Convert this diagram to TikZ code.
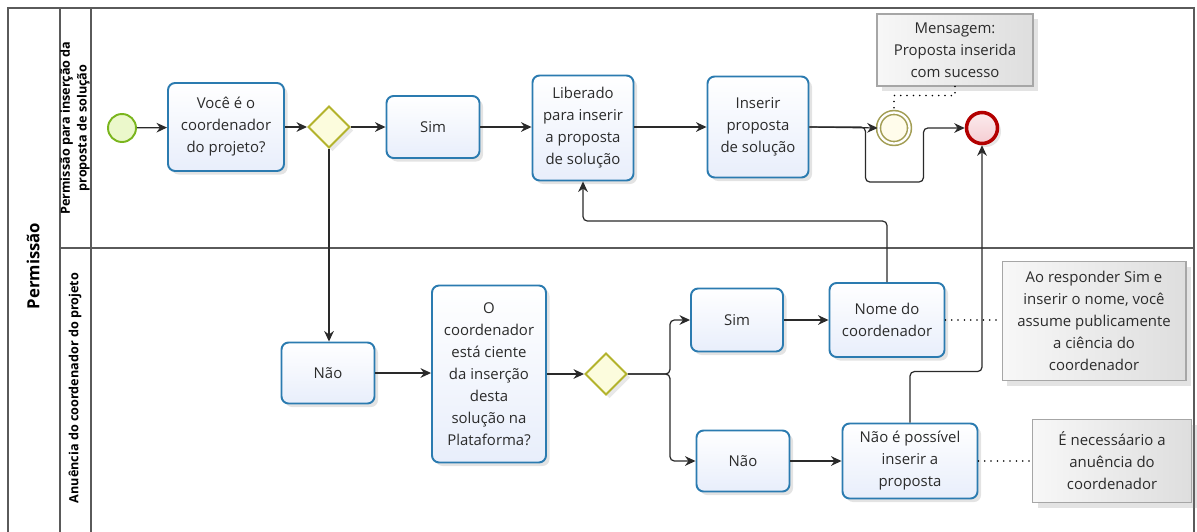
\documentclass[tikz,border=0pt]{standalone}
\usepackage{fontspec}
\setmainfont{Open Sans}
\usepackage{tikz}
\usetikzlibrary{arrows.meta,shapes.geometric,shadows}
\definecolor{taskblue}{HTML}{2B7BB0}
\definecolor{taskfill}{HTML}{E8EEFB}
\definecolor{gateolive}{HTML}{B3B32C}
\definecolor{gatefill}{HTML}{FCFCDD}
\definecolor{startgreen}{HTML}{7AB51D}
\definecolor{startfill}{HTML}{EBF8CB}
\definecolor{endred}{HTML}{B30000}
\definecolor{endfill}{HTML}{F5CDD2}
\definecolor{midolive}{HTML}{A39E55}
\definecolor{midfill}{HTML}{FFFCEB}
\definecolor{notegray}{HTML}{A6A6A6}
\definecolor{flowgray}{HTML}{2A2A2A}
\definecolor{poolgray}{HTML}{5A5A5A}
\definecolor{txt}{HTML}{2B2B2B}
\newcommand{\taskrad}{4pt}
\newcommand{\taskw}{1.1pt}
\newcommand{\flowrad}{2.5pt}

\begin{document}
\begin{tikzpicture}[x=0.02cm,y=-0.02cm]
    %\draw[help lines] (0,0) grid[step=50] (1197,531);
    \tikzset{
        task/.style = {rectangle, rounded corners=\taskrad, draw=taskblue, line width=\taskw,
            top color=white, bottom color=taskfill, text=txt, align=center,
            font=\fontsize{8.5}{12.5}\selectfont, inner sep=1pt,
            drop shadow={opacity=0.22, shadow xshift=2pt, shadow yshift=-2pt}},
        gateway/.style = {diamond, aspect=1, draw=gateolive, line width=\taskw, fill=gatefill,
            minimum width=0.84cm, minimum height=0.84cm, inner sep=0pt,
            drop shadow={opacity=0.18, shadow xshift=2pt, shadow yshift=-2pt}},
        startev/.style = {circle, draw=startgreen, line width=1.1pt, fill=startfill,
            minimum size=0.56cm, inner sep=0pt},
        midev/.style = {circle, draw=midolive, line width=0.9pt, double=white,
            double distance=1.3pt, fill=midfill, minimum size=0.62cm, inner sep=0pt},
        endev/.style = {circle, draw=endred, line width=2pt, top color=white!60!endfill,
            bottom color=endfill, minimum size=0.62cm, inner sep=0pt,
            drop shadow={opacity=0.2, shadow xshift=2pt, shadow yshift=-2pt}},
        note/.style = {rectangle, draw=notegray, line width=0.6pt, left color=gray!6,
            right color=gray!26, text=txt, align=center,
            font=\fontsize{8.5}{12.5}\selectfont, inner sep=1pt,
            drop shadow={opacity=0.22, shadow xshift=3pt, shadow yshift=-3pt}},
        lanelabel/.style = {rotate=90, text=black, align=center,
            font=\fontsize{7.2}{9.5}\selectfont\bfseries},
        flow/.style = {draw=flowgray, line width=0.7pt, rounded corners=\flowrad,
            -{Stealth[length=6pt,width=5.5pt]}},
        assoc/.style = {draw=black, line width=1pt, line cap=round,
            dash pattern=on 0pt off 3.6pt}
    }
    \useasboundingbox (0,0) rectangle (1197,531);

    % pool and lanes
    \draw[poolgray, line width=0.8pt] (8,8) rectangle (1194,548);
    \draw[poolgray, line width=0.8pt] (60,8) -- (60,548);
    \draw[poolgray, line width=0.8pt] (91,8) -- (91,548);
    \draw[poolgray, line width=0.8pt] (60,248) -- (1194,248);
    \node[lanelabel, font=\fontsize{9.5}{11}\selectfont\bfseries] (pool) at (33,266) {Permissão};
    \node[lanelabel] (laneA) at (75,128) {Permissão para inserção da\\proposta de solução};
    \node[lanelabel] (laneB) at (75,388) {Anuência do coordenador do projeto};

    % upper lane
    \node[startev] (start) at (122,128) {};
    \node[task, minimum width=2.32cm, minimum height=1.76cm] (voce) at (226,127) {Você é o\\coordenador\\do projeto?};
    \node[gateway] (gwA) at (329,127) {};
    \node[task, minimum width=1.86cm, minimum height=1.24cm] (simA) at (433,127) {Sim};
    \node[task, minimum width=2.02cm, minimum height=2.10cm] (liberado) at (583,128) {Liberado\\para inserir\\a proposta\\de solução};
    \node[task, minimum width=2.02cm, minimum height=2.02cm] (inserir) at (758,127) {Inserir\\proposta\\de solução};
    \node[midev] (msg) at (894,128) {};
    \node[endev] (fim) at (982,128) {};
    \node[note, minimum width=3.12cm, minimum height=1.44cm] (msgnote) at (955,50) {Mensagem:\\Proposta inserida\\com sucesso};

    % lower lane
    \node[task, minimum width=1.86cm, minimum height=1.22cm] (naoA) at (328,373) {Não};
    \node[task, minimum width=2.28cm, minimum height=3.54cm] (ciente) at (489,374) {O\\coordenador\\está ciente\\da inserção\\desta\\solução na\\Plataforma?};
    \node[gateway] (gwB) at (606,374) {};
    \node[task, minimum width=1.84cm, minimum height=1.26cm] (simB) at (737,320) {Sim};
    \node[task, minimum width=2.30cm, minimum height=1.48cm] (nome) at (887,320) {Nome do\\coordenador};
    \node[task, minimum width=1.86cm, minimum height=1.22cm] (naoB) at (743,461) {Não};
    \node[task, minimum width=2.70cm, minimum height=1.50cm] (naoposs) at (910,461) {Não é possível\\inserir a\\proposta};
    \node[note, minimum width=3.68cm, minimum height=2.38cm] (simnote) at (1094,321) {Ao responder Sim e\\inserir o nome, você\\assume publicamente\\a ciência do\\coordenador};
    \node[note, minimum width=3.18cm, minimum height=1.66cm] (naonote) at (1112,461) {É necessáario a\\anuência do\\coordenador};

    % sequence flows
    \draw[flow] (start) -- (voce);
    \draw[flow] (voce) -- (gwA);
    \draw[flow] (gwA) -- (simA);
    \draw[flow] (simA) -- (liberado.west |- simA);
    \draw[flow] (liberado.east |- inserir) -- (inserir);
    \draw[flow] (inserir.east) -- (msg.west);
    \draw[flow] (inserir.east) -- ++(56,0) -- ++(0,55) -- ++(58,0) |- (fim.west);
    \draw[flow] (gwA.south) -- (gwA.south |- naoA.north);
    \draw[flow] (naoA) -- (ciente.west |- naoA);
    \draw[flow] (ciente) -- (gwB);
    \draw[flow] (gwB.east) -- ++(42,0) |- (simB.west);
    \draw[flow] (gwB.east) -- ++(42,0) |- (naoB.west);
    \draw[flow] (simB) -- (nome);
    \draw[flow] (naoB) -- (naoposs);
    \draw[flow] (nome.north) -- ++(0,-61) -| (liberado.south);
    \draw[flow] (naoposs.north) -- ++(0,-51) -| (fim.south);

    % associations
    \draw[assoc] (msgnote.south) -- ++(0,9) -| (msg.north);
    \draw[assoc] (nome.east) -- (simnote.west |- nome);
    \draw[assoc] (naoposs.east) -- (naonote.west |- naoposs);
\end{tikzpicture}
\end{document}
